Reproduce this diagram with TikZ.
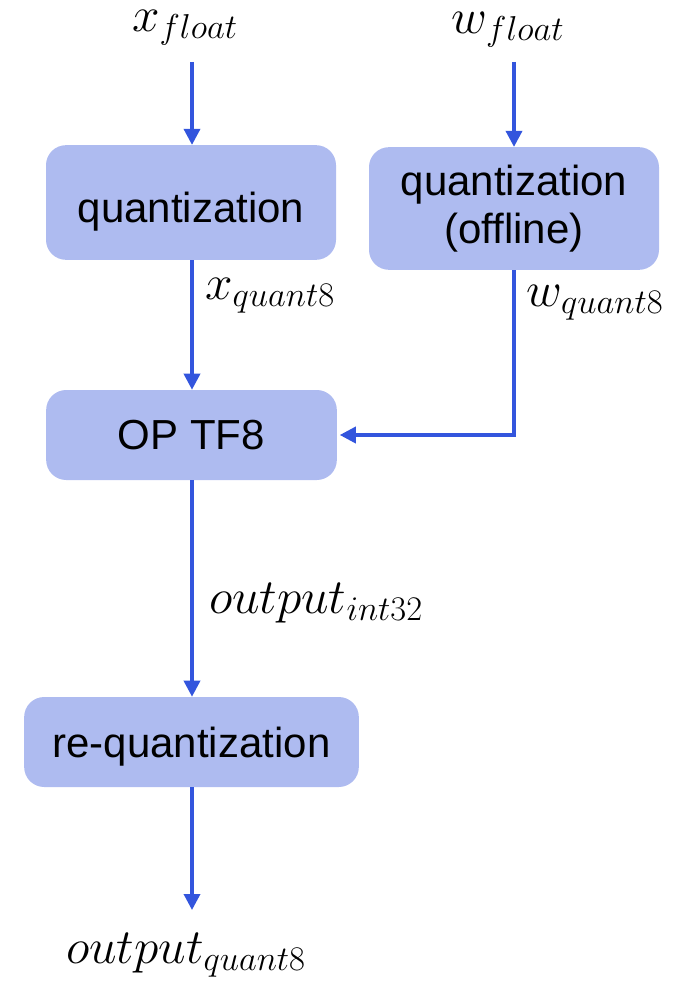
\RequirePackage{fix-cm}
\documentclass[tikz,border=0pt]{standalone}
\usepackage{fontspec}
\setmainfont{Liberation Sans}
\usepackage{amsmath}
\usetikzlibrary{arrows.meta}

\definecolor{boxfill}{RGB}{174,187,240}
\definecolor{flowline}{RGB}{51,85,221}

\tikzset{
	opbox/.style={fill=boxfill, rounded corners=15pt, inner sep=0pt, align=center, font=\fontsize{31.5}{36}\selectfont},
	varlabel/.style={inner sep=0.75pt, font=\fontsize{37}{42}\selectfont},
	flow/.style={draw=flowline, line width=2.6pt, -{Triangle[length=12pt,width=12pt]}},
}

\begin{document}
\begin{tikzpicture}[x=0.75pt,y=0.75pt,yscale=-1,xscale=1]
		\useasboundingbox (0,0) rectangle (682,981);
		
		% Boxes
		\node [opbox, minimum width=217.5pt, minimum height=86pt] (qx) at (191,202.5) {\raisebox{-6.5pt}[\height][\depth]{quantization}};
		\node [opbox, minimum width=217.5pt, minimum height=92pt] (qw) at (514,208.5) {quantization\\(offline)};
		\node [opbox, minimum width=218pt, minimum height=67.5pt] (op) at (191.5,435) {OP TF8};
		\node [opbox, minimum width=251pt, minimum height=67.5pt] (rq) at (191.5,742) {\raisebox{-3.5pt}[\height][\depth]{re-quantization}};
		
		% Text Node
		\node [varlabel] (xf) at (185,28) {$x_{float}$};
		% Text Node
		\node [varlabel] (wf) at (508,30) {$w_{float}$};
		% Text Node
		\node [varlabel] (xq) at (270,296) {$x_{quant8}$};
		% Text Node
		\node [varlabel] (wq) at (595,303) {$w_{quant8}$};
		% Text Node
		\node [varlabel] (oi) at (316,603) {$output_{int32}$};
		% Text Node
		\node [varlabel] (oq) at (186,955) {$output_{quant8}$};
		% Text Node
		\node [varlabel, font=\fontsize{31.5}{36}\selectfont] (cut) at (-4,655) {:};
		
		% Arrow ends
		\coordinate (xin) at (192,62);
		\coordinate (win) at (514,62);
		\coordinate (outend) at (192,910);
		
		% Arrows
		\draw [flow] (xin) -- (qx.north -| xin);
		\draw [flow] (win) -- (qw.north -| win);
		\draw [flow] (qx.south -| xin) -- (op.north -| xin);
		\draw [flow] (qw.south) -- (qw.south |- op.east) -- ([xshift=2pt]op.east);
		\draw [flow] (op.south -| xin) -- (rq.north -| xin);
		\draw [flow] (rq.south -| xin) -- (outend);
		
	\end{tikzpicture}
\end{document}
